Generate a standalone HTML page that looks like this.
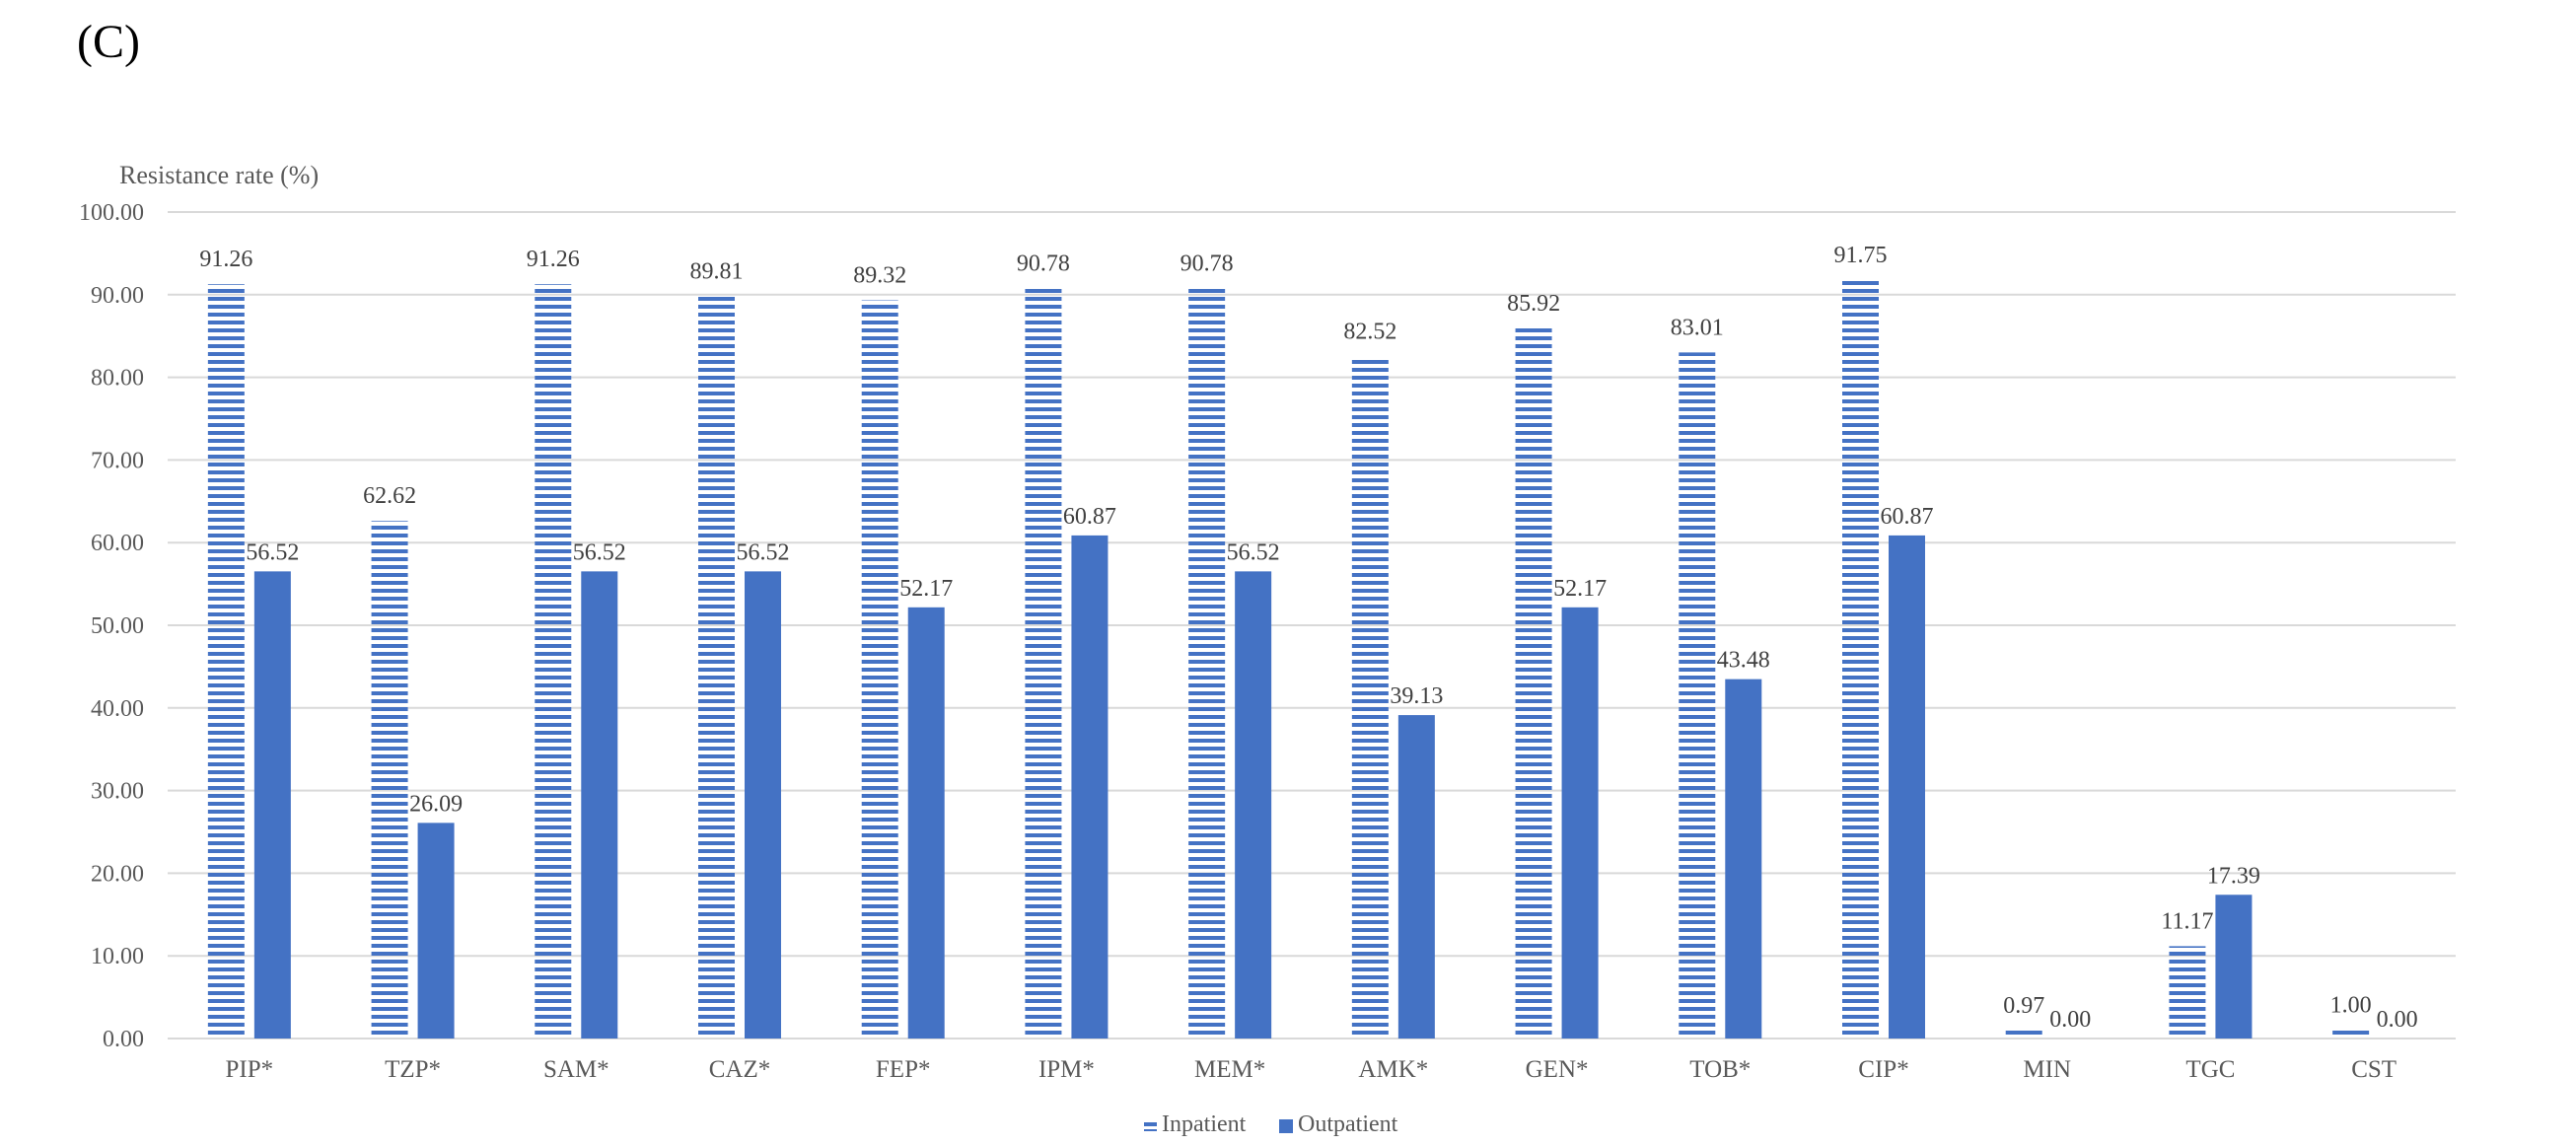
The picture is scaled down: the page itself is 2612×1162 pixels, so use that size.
<!DOCTYPE html>
<html><head><meta charset="utf-8"><style>
html,body{margin:0;padding:0;background:#fff;}
svg{display:block;font-family:"Liberation Serif",serif;}
</style></head><body>
<svg id="chart" width="2612" height="1162" viewBox="0 0 2612 1162" xmlns="http://www.w3.org/2000/svg">
<defs>
<pattern id="stripes" patternUnits="userSpaceOnUse" x="0" y="1053" width="8" height="8">
<rect x="0" y="0" width="8" height="4" fill="#4472c4"/>
</pattern>
</defs>
<text x="78" y="58" font-size="48" fill="#000">(C)</text>
<text x="121" y="186" font-size="26" fill="#595959">Resistance rate (%)</text>
<g id="grid"></g>
<g id="bars"></g>
<g id="labels"></g>
<g>
<rect x="1160" y="1138" width="13" height="4" fill="#4472c4"/>
<rect x="1160" y="1145" width="13" height="2" fill="#4472c4"/>
<text x="1178" y="1147" font-size="24" fill="#595959">Inpatient</text>
<rect x="1297" y="1135" width="14" height="14" fill="#4472c4"/>
<text x="1316" y="1147" font-size="24" fill="#595959">Outpatient</text>
</g>
</svg>
<script>
const categories = ["PIP*","TZP*","SAM*","CAZ*","FEP*","IPM*","MEM*","AMK*","GEN*","TOB*","CIP*","MIN","TGC","CST"];
const inpatient = [91.26,62.62,91.26,89.81,89.32,90.78,90.78,82.52,85.92,83.01,91.75,0.97,11.17,1.00];
const outpatient = [56.52,26.09,56.52,56.52,52.17,60.87,56.52,39.13,52.17,43.48,60.87,0.00,17.39,0.00];
const yTicks = [0,10,20,30,40,50,60,70,80,90,100];

const NS = "http://www.w3.org/2000/svg";
const plotLeft = 170, plotRight = 2490, plotBase = 1053, plotTop = 215;
const yMax = 100;
function yScale(v){ return plotBase - (v / yMax) * (plotBase - plotTop); }
const band = (plotRight - plotLeft) / categories.length;
function xc(i){ return plotLeft + band * (i + 0.5); }
const bw = 37, gap = 10;

function mk(tag, attrs, parent){
  const el = document.createElementNS(NS, tag);
  for (const k in attrs) el.setAttribute(k, attrs[k]);
  parent.appendChild(el);
  return el;
}
const grid = document.getElementById("grid");
const bars = document.getElementById("bars");
const labels = document.getElementById("labels");

yTicks.forEach(t => {
  const ln = mk("line", {x1:plotLeft, x2:plotRight, y1:yScale(t), y2:yScale(t), stroke:"#d9d9d9", "stroke-width":2}, grid);
  
  
  const tx = mk("text", {x:146, y:yScale(t)+8, "text-anchor":"end", "font-size":24, fill:"#595959"}, grid);
  tx.textContent = t.toFixed(2);
  
  
});

categories.forEach((c, i) => {
  const cx = xc(i);
  const x1 = cx - gap/2 - bw, x2 = cx + gap/2;
  const r1 = mk("rect", {x:x1, y:yScale(inpatient[i]), width:bw, height:plotBase - yScale(inpatient[i]), fill:"url(#stripes)"}, bars);
  
  
  const r2 = mk("rect", {x:x2, y:yScale(outpatient[i]), width:bw, height:plotBase - yScale(outpatient[i]), fill:"#4472c4"}, bars);
  
  
  const l1 = mk("text", {x:x1 + bw/2, y:yScale(inpatient[i]) - 18, "text-anchor":"middle", "font-size":24, fill:"#404040"}, labels);
  l1.textContent = inpatient[i].toFixed(2);
  
  
  const l2 = mk("text", {x:x2 + bw/2, y:yScale(outpatient[i]) - 12, "text-anchor":"middle", "font-size":24, fill:"#404040"}, labels);
  l2.textContent = outpatient[i].toFixed(2);
  
  
  const xl = mk("text", {x:cx, y:1092, "text-anchor":"middle", "font-size":25, fill:"#595959"}, labels);
  xl.textContent = c;
  
  
});
</script>
</body></html>
